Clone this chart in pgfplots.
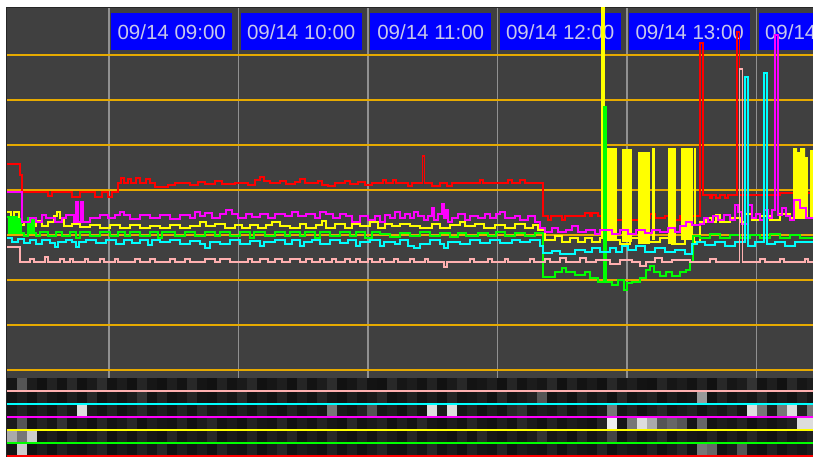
\documentclass[border=0pt]{standalone}
\usepackage{fontspec}
\setmainfont{Liberation Sans}
\usepackage{pgfplots}
\pgfplotsset{compat=1.18}
\definecolor{bgdark}{RGB}{64,64,64}
\definecolor{gridorange}{RGB}{230,170,0}
\definecolor{gridgray}{RGB}{145,145,145}
\definecolor{boxblue}{RGB}{0,0,255}
\definecolor{labeltxt}{RGB}{200,200,235}
\definecolor{sred}{RGB}{255,0,0}
\definecolor{smag}{RGB}{255,0,255}
\definecolor{syel}{RGB}{255,255,0}
\definecolor{sgreen}{RGB}{0,255,0}
\definecolor{scyan}{RGB}{0,255,255}
\definecolor{spink}{RGB}{255,176,176}
\pgfplotsset{ser/.style={const plot, no marks, line width=1.8pt}}
\begin{document}
\begin{tikzpicture}
\begin{axis}[
 set layers,
 at={(6.5pt,-2pt)}, anchor=south west,
 scale only axis, width=808.5pt, height=450.5pt,
 xmin=6.5, xmax=815, ymin=7.5, ymax=458, y dir=reverse,
 axis background/.style={fill=bgdark},
 axis line style={draw=black!85, line width=1.2pt},
 xtick={109,238.5,368,497.5,627,756.5},
 xticklabels={09/14 09:00,09/14 10:00,09/14 11:00,09/14 12:00,09/14 13:00,09/14 14:00},
 xticklabel pos=upper,
 xticklabel style={anchor=north west, fill=boxblue, text=labeltxt,
   font=\fontsize{20.5}{24}\selectfont, minimum width=121pt, minimum height=37pt,
   inner sep=0pt, xshift=2pt, yshift=-5.5pt},
 ytick={55,100,145,190,235,280,325,370},
 yticklabels={},
 major tick length=0pt,
 xmajorgrids, ymajorgrids,
 x grid style={draw=gridgray, line width=1.8pt},
 y grid style={draw=gridorange, line width=1.8pt},
 colormap={bw}{gray(0cm)=(0.02); gray(4cm)=(0.2); gray(10cm)=(1)},
 point meta min=0, point meta max=100,
 clip=true,
]
% ---- activity strips ----
\addplot[matrix plot*, mesh/cols=81, point meta=explicit] table[row sep=\\, meta=c] {
x y c\\
12 384.5 15\\ 22 384.5 50\\ 32 384.5 20\\ 42 384.5 10\\ 52 384.5 25\\ 62 384.5 12\\ 72 384.5 30\\ 82 384.5 10\\ 92 384.5 18\\
102 384.5 35\\ 112 384.5 12\\ 122 384.5 20\\ 132 384.5 10\\ 142 384.5 28\\ 152 384.5 15\\ 162 384.5 10\\ 172 384.5 22\\ 182 384.5 12\\
192 384.5 30\\ 202 384.5 14\\ 212 384.5 10\\ 222 384.5 25\\ 232 384.5 12\\ 242 384.5 18\\ 252 384.5 30\\ 262 384.5 10\\ 272 384.5 15\\
282 384.5 22\\ 292 384.5 10\\ 302 384.5 28\\ 312 384.5 12\\ 322 384.5 20\\ 332 384.5 35\\ 342 384.5 10\\ 352 384.5 15\\ 362 384.5 25\\
372 384.5 12\\ 382 384.5 10\\ 392 384.5 30\\ 402 384.5 15\\ 412 384.5 20\\ 422 384.5 12\\ 432 384.5 25\\ 442 384.5 10\\ 452 384.5 18\\
462 384.5 30\\ 472 384.5 12\\ 482 384.5 15\\ 492 384.5 22\\ 502 384.5 10\\ 512 384.5 28\\ 522 384.5 12\\ 532 384.5 20\\ 542 384.5 15\\
552 384.5 30\\ 562 384.5 10\\ 572 384.5 25\\ 582 384.5 12\\ 592 384.5 18\\ 602 384.5 10\\ 612 384.5 30\\ 622 384.5 15\\ 632 384.5 22\\
642 384.5 12\\ 652 384.5 10\\ 662 384.5 28\\ 672 384.5 15\\ 682 384.5 20\\ 692 384.5 12\\ 702 384.5 25\\ 712 384.5 10\\ 722 384.5 30\\
732 384.5 15\\ 742 384.5 20\\ 752 384.5 40\\ 762 384.5 12\\ 772 384.5 22\\ 782 384.5 10\\ 792 384.5 30\\ 802 384.5 15\\ 812 384.5 20\\
12 397.5 12\\ 22 397.5 20\\ 32 397.5 10\\ 42 397.5 25\\ 52 397.5 15\\ 62 397.5 10\\ 72 397.5 22\\ 82 397.5 12\\ 92 397.5 30\\
102 397.5 10\\ 112 397.5 18\\ 122 397.5 12\\ 132 397.5 20\\ 142 397.5 40\\ 152 397.5 12\\ 162 397.5 25\\ 172 397.5 10\\ 182 397.5 15\\
192 397.5 28\\ 202 397.5 12\\ 212 397.5 10\\ 222 397.5 22\\ 232 397.5 15\\ 242 397.5 30\\ 252 397.5 10\\ 262 397.5 18\\ 272 397.5 12\\
282 397.5 25\\ 292 397.5 10\\ 302 397.5 20\\ 312 397.5 12\\ 322 397.5 28\\ 332 397.5 15\\ 342 397.5 10\\ 352 397.5 22\\ 362 397.5 12\\
372 397.5 18\\ 382 397.5 30\\ 392 397.5 10\\ 402 397.5 15\\ 412 397.5 25\\ 422 397.5 12\\ 432 397.5 20\\ 442 397.5 10\\ 452 397.5 28\\
462 397.5 12\\ 472 397.5 15\\ 482 397.5 22\\ 492 397.5 10\\ 502 397.5 30\\ 512 397.5 12\\ 522 397.5 18\\ 532 397.5 25\\ 542 397.5 50\\
552 397.5 12\\ 562 397.5 20\\ 572 397.5 10\\ 582 397.5 28\\ 592 397.5 15\\ 602 397.5 22\\ 612 397.5 10\\ 622 397.5 30\\ 632 397.5 12\\
642 397.5 18\\ 652 397.5 25\\ 662 397.5 10\\ 672 397.5 20\\ 682 397.5 12\\ 692 397.5 15\\ 702 397.5 70\\ 712 397.5 10\\ 722 397.5 25\\
732 397.5 12\\ 742 397.5 20\\ 752 397.5 15\\ 762 397.5 30\\ 772 397.5 10\\ 782 397.5 18\\ 792 397.5 12\\ 802 397.5 25\\ 812 397.5 15\\
12 410.5 15\\ 22 410.5 25\\ 32 410.5 12\\ 42 410.5 20\\ 52 410.5 10\\ 62 410.5 28\\ 72 410.5 15\\ 82 410.5 90\\ 92 410.5 20\\
102 410.5 12\\ 112 410.5 25\\ 122 410.5 10\\ 132 410.5 18\\ 142 410.5 30\\ 152 410.5 12\\ 162 410.5 20\\ 172 410.5 10\\ 182 410.5 25\\
192 410.5 12\\ 202 410.5 30\\ 212 410.5 15\\ 222 410.5 20\\ 232 410.5 10\\ 242 410.5 22\\ 252 410.5 12\\ 262 410.5 28\\ 272 410.5 15\\
282 410.5 10\\ 292 410.5 25\\ 302 410.5 12\\ 312 410.5 20\\ 322 410.5 15\\ 332 410.5 60\\ 342 410.5 18\\ 352 410.5 12\\ 362 410.5 25\\
372 410.5 50\\ 382 410.5 15\\ 392 410.5 22\\ 402 410.5 10\\ 412 410.5 28\\ 422 410.5 12\\ 432 410.5 90\\ 442 410.5 20\\ 452 410.5 90\\
462 410.5 15\\ 472 410.5 25\\ 482 410.5 10\\ 492 410.5 22\\ 502 410.5 12\\ 512 410.5 30\\ 522 410.5 40\\ 532 410.5 12\\ 542 410.5 20\\
552 410.5 15\\ 562 410.5 28\\ 572 410.5 10\\ 582 410.5 22\\ 592 410.5 12\\ 602 410.5 18\\ 612 410.5 60\\ 622 410.5 15\\ 632 410.5 25\\
642 410.5 10\\ 652 410.5 20\\ 662 410.5 30\\ 672 410.5 12\\ 682 410.5 18\\ 692 410.5 25\\ 702 410.5 10\\ 712 410.5 22\\ 722 410.5 15\\
732 410.5 28\\ 742 410.5 12\\ 752 410.5 90\\ 762 410.5 60\\ 772 410.5 20\\ 782 410.5 60\\ 792 410.5 90\\ 802 410.5 25\\ 812 410.5 60\\
12 423.5 20\\ 22 423.5 50\\ 32 423.5 12\\ 42 423.5 25\\ 52 423.5 15\\ 62 423.5 40\\ 72 423.5 12\\ 82 423.5 22\\ 92 423.5 10\\
102 423.5 28\\ 112 423.5 12\\ 122 423.5 18\\ 132 423.5 30\\ 142 423.5 10\\ 152 423.5 22\\ 162 423.5 15\\ 172 423.5 12\\ 182 423.5 25\\
192 423.5 10\\ 202 423.5 20\\ 212 423.5 30\\ 222 423.5 12\\ 232 423.5 18\\ 242 423.5 10\\ 252 423.5 25\\ 262 423.5 15\\ 272 423.5 12\\
282 423.5 28\\ 292 423.5 10\\ 302 423.5 20\\ 312 423.5 12\\ 322 423.5 25\\ 332 423.5 15\\ 342 423.5 10\\ 352 423.5 30\\ 362 423.5 12\\
372 423.5 18\\ 382 423.5 25\\ 392 423.5 10\\ 402 423.5 22\\ 412 423.5 12\\ 422 423.5 30\\ 432 423.5 15\\ 442 423.5 10\\ 452 423.5 20\\
462 423.5 12\\ 472 423.5 28\\ 482 423.5 15\\ 492 423.5 10\\ 502 423.5 22\\ 512 423.5 12\\ 522 423.5 30\\ 532 423.5 18\\ 542 423.5 10\\
552 423.5 25\\ 562 423.5 12\\ 572 423.5 20\\ 582 423.5 15\\ 592 423.5 10\\ 602 423.5 28\\ 612 423.5 95\\ 622 423.5 15\\ 632 423.5 60\\
642 423.5 90\\ 652 423.5 75\\ 662 423.5 50\\ 672 423.5 55\\ 682 423.5 50\\ 692 423.5 15\\ 702 423.5 55\\ 712 423.5 12\\ 722 423.5 20\\
732 423.5 15\\ 742 423.5 25\\ 752 423.5 10\\ 762 423.5 20\\ 772 423.5 12\\ 782 423.5 18\\ 792 423.5 25\\ 802 423.5 90\\ 812 423.5 90\\
12 436.5 75\\ 22 436.5 60\\ 32 436.5 85\\ 42 436.5 12\\ 52 436.5 20\\ 62 436.5 10\\ 72 436.5 25\\ 82 436.5 12\\ 92 436.5 18\\
102 436.5 30\\ 112 436.5 10\\ 122 436.5 22\\ 132 436.5 12\\ 142 436.5 25\\ 152 436.5 15\\ 162 436.5 10\\ 172 436.5 28\\ 182 436.5 12\\
192 436.5 20\\ 202 436.5 15\\ 212 436.5 30\\ 222 436.5 10\\ 232 436.5 18\\ 242 436.5 12\\ 252 436.5 25\\ 262 436.5 10\\ 272 436.5 22\\
282 436.5 15\\ 292 436.5 28\\ 302 436.5 10\\ 312 436.5 20\\ 322 436.5 12\\ 332 436.5 30\\ 342 436.5 15\\ 352 436.5 10\\ 362 436.5 22\\
372 436.5 12\\ 382 436.5 25\\ 392 436.5 18\\ 402 436.5 10\\ 412 436.5 28\\ 422 436.5 12\\ 432 436.5 20\\ 442 436.5 15\\ 452 436.5 10\\
462 436.5 25\\ 472 436.5 12\\ 482 436.5 30\\ 492 436.5 15\\ 502 436.5 10\\ 512 436.5 22\\ 522 436.5 12\\ 532 436.5 20\\ 542 436.5 40\\
552 436.5 15\\ 562 436.5 22\\ 572 436.5 10\\ 582 436.5 28\\ 592 436.5 12\\ 602 436.5 20\\ 612 436.5 45\\ 622 436.5 10\\ 632 436.5 25\\
642 436.5 12\\ 652 436.5 18\\ 662 436.5 30\\ 672 436.5 10\\ 682 436.5 22\\ 692 436.5 15\\ 702 436.5 12\\ 712 436.5 25\\ 722 436.5 10\\
732 436.5 20\\ 742 436.5 12\\ 752 436.5 28\\ 762 436.5 15\\ 772 436.5 10\\ 782 436.5 22\\ 792 436.5 12\\ 802 436.5 18\\ 812 436.5 25\\
12 449.5 15\\ 22 449.5 85\\ 32 449.5 12\\ 42 449.5 22\\ 52 449.5 10\\ 62 449.5 25\\ 72 449.5 15\\ 82 449.5 12\\ 92 449.5 20\\
102 449.5 28\\ 112 449.5 10\\ 122 449.5 18\\ 132 449.5 12\\ 142 449.5 25\\ 152 449.5 15\\ 162 449.5 30\\ 172 449.5 10\\ 182 449.5 22\\
192 449.5 12\\ 202 449.5 20\\ 212 449.5 10\\ 222 449.5 28\\ 232 449.5 15\\ 242 449.5 12\\ 252 449.5 25\\ 262 449.5 10\\ 272 449.5 18\\
282 449.5 30\\ 292 449.5 12\\ 302 449.5 20\\ 312 449.5 15\\ 322 449.5 10\\ 332 449.5 25\\ 342 449.5 12\\ 352 449.5 22\\ 362 449.5 10\\
372 449.5 18\\ 382 449.5 28\\ 392 449.5 12\\ 402 449.5 10\\ 412 449.5 22\\ 422 449.5 15\\ 432 449.5 30\\ 442 449.5 12\\ 452 449.5 20\\
462 449.5 10\\ 472 449.5 25\\ 482 449.5 15\\ 492 449.5 12\\ 502 449.5 28\\ 512 449.5 10\\ 522 449.5 20\\ 532 449.5 15\\ 542 449.5 12\\
552 449.5 25\\ 562 449.5 10\\ 572 449.5 22\\ 582 449.5 15\\ 592 449.5 12\\ 602 449.5 28\\ 612 449.5 10\\ 622 449.5 20\\ 632 449.5 15\\
642 449.5 12\\ 652 449.5 25\\ 662 449.5 10\\ 672 449.5 18\\ 682 449.5 30\\ 692 449.5 12\\ 702 449.5 60\\ 712 449.5 55\\ 722 449.5 12\\
732 449.5 20\\ 742 449.5 50\\ 752 449.5 15\\ 762 449.5 10\\ 772 449.5 25\\ 782 449.5 12\\ 792 449.5 20\\ 802 449.5 15\\ 812 449.5 22\\
};
% strip separators
\addplot[spink, line width=2pt] coordinates {(6.5,390.5) (815,390.5)};
\addplot[scyan, line width=2pt] coordinates {(6.5,403.5) (815,403.5)};
\addplot[smag, line width=2pt] coordinates {(6.5,416.5) (815,416.5)};
\addplot[syel, line width=2pt] coordinates {(6.5,430) (815,430)};
\addplot[sgreen, line width=2pt] coordinates {(6.5,443) (815,443)};
\addplot[sred, line width=2pt] coordinates {(6.5,455.5) (815,455.5)};
% ---- red ----
\addplot[ser, sred] coordinates {(7,164) (20,175) (22,192) (48,196) (52,192) (72,197) (80,192) (95,197) (102,192) (108,197) (112,192) (118,183) (121,178) (124,183) (128,179) (131,183) (136,178) (140,183) (146,179) (150,183) (155,187) (168,185) (175,183) (190,185) (198,182) (205,184) (215,181) (222,184) (235,183) (248,185) (255,180) (260,177) (264,181) (270,183) (280,181) (286,184) (295,182) (300,179) (305,183) (318,181) (322,185) (328,186) (335,183) (345,181) (350,184) (358,182) (365,185) (372,183) (383,180) (386,183) (393,180) (396,183) (408,186) (412,183) (422.5,156) (424.5,183) (432,186) (440,183) (447,186) (452,183) (480,180) (483,183) (508,180) (512,183) (520,180) (525,183) (543,216) (548,220) (551,216) (562,220) (565,216) (585,213) (590,216) (592,213) (598,216) (602,220) (640,218) (650,214) (655,218) (665,216) (672,220) (680,216) (700,43) (703,195) (710,198) (712,195) (716,198) (720,195) (725,198) (728,195) (737,32) (739.5,195) (780,193) (815,193)};
% ---- yellow bars ----
\addplot[fill=syel, draw=none] coordinates {(605,148) (617,148) (617,240) (605,240)} -- cycle;
\addplot[fill=syel, draw=none] coordinates {(622,149) (632,149) (632,242) (622,242)} -- cycle;
\addplot[fill=syel, draw=none] coordinates {(638,152) (650,152) (650,244) (638,244)} -- cycle;
\addplot[fill=syel, draw=none] coordinates {(652,148) (655,148) (655,240) (652,240)} -- cycle;
\addplot[fill=syel, draw=none] coordinates {(668,148) (676,148) (676,244) (668,244)} -- cycle;
\addplot[fill=syel, draw=none] coordinates {(681,148) (693,148) (693,240) (681,240)} -- cycle;
\addplot[fill=syel, draw=none] coordinates {(694,148) (696,148) (696,225) (694,225)} -- cycle;
\addplot[fill=syel, draw=none] coordinates {(793,148) (797,148) (797,152) (800,152) (800,148) (805,148) (805,217) (793,217)} -- cycle;
\addplot[fill=syel, draw=none] coordinates {(805,157) (808,157) (808,217) (805,217)} -- cycle;
\addplot[fill=syel, draw=none] coordinates {(810,150) (815,150) (815,217) (810,217)} -- cycle;
% ---- yellow ----
\addplot[ser, syel] coordinates {(7,212) (11,220) (14,212) (19,225) (24,222) (30,226) (36,221) (42,226) (48,222) (54,216) (57,212) (60,218) (64,226) (72,224) (80,227) (90,225) (100,228) (110,225) (120,228) (130,225) (140,228) (150,226) (160,228) (170,225) (180,228) (190,226) (200,222) (206,226) (215,224) (225,228) (235,225) (242,228) (250,225) (258,228) (266,225) (272,222) (280,226) (290,228) (300,224) (306,228) (316,225) (322,221) (326,228) (335,224) (345,228) (352,224) (360,226) (370,222) (378,228) (385,224) (392,226) (400,224) (410,226) (420,228) (432,224) (440,228) (450,225) (460,222) (465,226) (475,224) (484,228) (495,225) (505,228) (515,224) (525,228) (533,225) (538,230) (545,240) (555,236) (562,242) (570,238) (578,242) (585,238) (592,242) (600,238) (602,8) (604,240) (620,244) (630,238) (645,242) (660,238) (672,244) (685,238) (694,242) (700,222) (706,218) (712,222) (716,215) (720,222) (730,218) (740,222) (745,214) (752,220) (760,216) (770,220) (780,214) (790,218) (815,218)};
% ---- green ----
\addplot[ser, sgreen] coordinates {(7,217) (9,233) (11,217) (13,233) (15,217) (17,233) (19,219) (21,233) (24,236) (28,218) (30,233) (32,218) (34,233) (36,236) (40,232) (48,236) (56,232) (62,236) (70,232) (76,238) (80,232) (90,236) (100,232) (110,236) (118,232) (125,236) (130,232) (140,236) (150,232) (158,238) (162,232) (175,236) (185,232) (195,236) (205,232) (215,236) (220,232) (230,236) (240,232) (250,238) (254,232) (265,236) (275,232) (285,236) (290,232) (300,236) (305,232) (315,238) (320,232) (330,236) (340,232) (350,236) (356,232) (365,238) (372,232) (380,234) (390,237) (400,233) (410,236) (420,232) (430,236) (440,233) (450,237) (458,233) (466,236) (478,233) (488,236) (496,232) (505,236) (515,233) (525,236) (535,233) (543,277) (555,272) (562,268) (566,272) (575,275) (585,272) (590,278) (598,282) (604,107) (606,282) (612,285) (618,280) (624,290) (627,283) (632,282) (640,278) (646,270) (650,266) (654,272) (660,276) (666,272) (672,276) (680,272) (686,270) (690,262) (693,236) (700,238) (710,234) (720,238) (730,235) (740,238) (750,235) (760,238) (770,234) (780,238) (790,235) (800,238) (815,236)};
% ---- magenta ----
\addplot[ser, smag] coordinates {(7,192) (22,222) (30,218) (36,222) (42,215) (46,218) (55,222) (62,218) (66,215) (74,222) (76,202) (78,222) (81,202) (83,222) (90,218) (100,215) (108,218) (115,215) (120,212) (124,215) (130,219) (140,215) (150,218) (160,215) (170,219) (180,215) (190,218) (195,212) (200,216) (205,213) (212,218) (220,214) (226,210) (232,214) (238,218) (246,214) (252,217) (260,214) (268,218) (275,214) (285,216) (292,212) (298,216) (306,214) (315,218) (320,212) (326,214) (333,218) (340,214) (346,216) (352,222) (360,216) (368,220) (375,216) (380,222) (385,215) (390,218) (395,212) (400,218) (405,214) (410,218) (414,212) (418,216) (424,220) (428,216) (432,208) (434,220) (438,214) (442,204) (444,218) (446,210) (448,222) (452,218) (458,214) (465,220) (470,216) (478,218) (485,214) (490,218) (496,214) (500,212) (505,218) (515,216) (520,220) (528,216) (535,222) (540,228) (545,232) (552,228) (558,232) (566,230) (572,226) (578,232) (586,230) (595,234) (600,230) (612,234) (620,230) (628,234) (636,230) (645,233) (652,230) (660,232) (668,228) (675,232) (680,226) (686,222) (692,225) (700,224) (704,218) (708,222) (713,216) (718,220) (724,215) (730,220) (735,205) (738,212) (742,224) (748,205) (752,218) (756,214) (760,220) (764,210) (768,218) (772,210) (775,35) (778,215) (782,208) (786,216) (790,220) (794,200) (800,208) (806,218) (815,218)};
% ---- cyan ----
\addplot[ser, scyan] coordinates {(7,238) (12,242) (18,239) (24,243) (30,240) (36,244) (42,240) (50,243) (55,247) (58,242) (66,240) (72,242) (76,247) (79,242) (86,240) (96,243) (106,240) (116,244) (124,240) (132,243) (140,240) (148,245) (152,240) (160,242) (170,240) (180,244) (190,241) (200,244) (205,248) (210,242) (220,244) (230,240) (240,244) (250,241) (260,246) (264,242) (275,240) (285,244) (292,240) (300,246) (304,242) (312,240) (320,244) (330,240) (340,243) (348,240) (356,246) (360,242) (370,240) (380,246) (384,242) (395,244) (400,240) (408,246) (414,248) (420,244) (430,240) (440,244) (444,248) (448,242) (460,244) (470,240) (480,243) (490,240) (500,243) (512,240) (520,242) (530,240) (540,246) (543,253) (552,251) (560,254) (575,250) (585,252) (592,248) (600,252) (610,248) (616,252) (622,246) (628,250) (636,246) (645,252) (655,248) (665,252) (675,250) (685,254) (692,244) (697,242) (705,245) (715,242) (725,246) (735,242) (745,77) (748,246) (755,242) (764,73) (767,244) (775,242) (785,246) (795,242) (815,243)};
% ---- pink ----
\addplot[ser, spink] coordinates {(7,247) (20,262) (30,259) (34,262) (45,257) (48,262) (60,259) (64,262) (70,259) (73,262) (85,259) (88,262) (100,259) (104,262) (115,259) (118,262) (135,259) (140,262) (150,259) (155,262) (170,259) (175,262) (185,259) (190,262) (205,259) (215,262) (220,259) (230,262) (248,259) (252,262) (260,259) (268,262) (275,259) (282,262) (290,259) (300,262) (306,259) (312,262) (320,259) (324,262) (332,259) (336,262) (345,259) (350,262) (356,259) (360,262) (368,259) (372,262) (380,259) (384,262) (394,259) (398,262) (410,259) (414,262) (425,259) (428,262) (444,267) (447,262) (470,259) (474,262) (488,259) (492,262) (505,259) (508,262) (530,259) (534,262) (545,259) (550,262) (560,258) (566,262) (580,258) (586,262) (596,260) (610,264) (620,260) (632,262) (640,266) (646,262) (655,258) (662,262) (672,260) (690,262) (710,259) (716,262) (739.5,69) (742.5,262) (760,259) (765,262) (780,259) (784,262) (805,259) (808,262) (815,262)};
\end{axis}
\pgfresetboundingbox
\useasboundingbox (0,0) rectangle (813pt,456pt);
\end{tikzpicture}
\end{document}
